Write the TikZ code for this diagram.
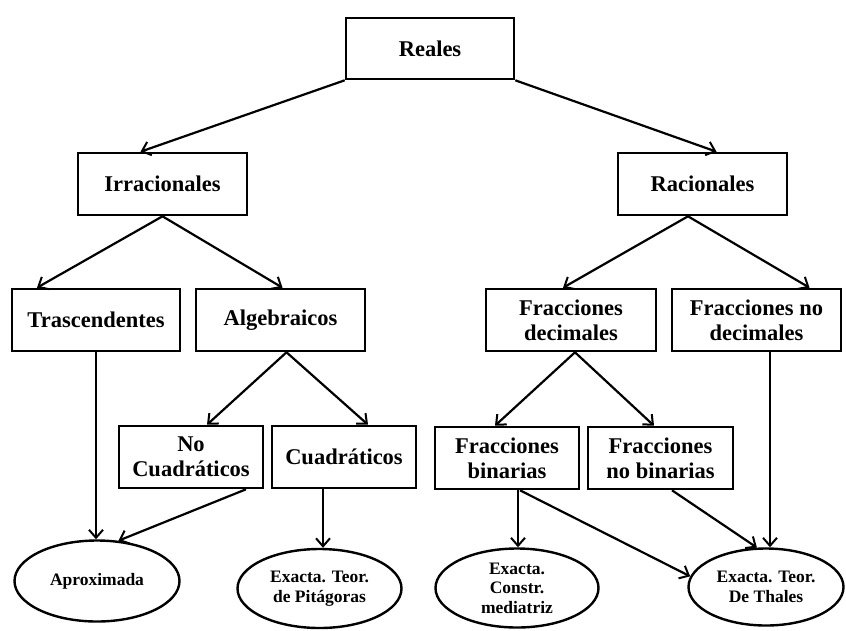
\documentclass[tikz,border=0pt]{standalone}
\usepackage{fontspec}
\setmainfont{Liberation Serif}
\usetikzlibrary{shapes.geometric,arrows.meta}
\begin{document}
\begin{tikzpicture}[x=1pt,y=-1pt,
  box/.style={draw,line width=2.6pt,rectangle,inner sep=0pt,align=center,
    font=\fontsize{22.5}{25}\selectfont\bfseries},
  oval/.style={draw,line width=2.4pt,ellipse,inner sep=0pt,align=center,
    font=\fontsize{17.5}{19.5}\selectfont\bfseries},
  link/.style={line width=2.2pt,-{Straight Barb[length=8pt,width=14pt,line width=2pt]}}]
\useasboundingbox (0,0) rectangle (846,630);
\fill[white] (0,0) rectangle (846,630);

% boxes
\node[box,minimum width=168pt,minimum height=61pt] (reales) at (430,48.5) {Reales};
\node[box,minimum width=169pt,minimum height=62pt] (irr) at (162.5,184) {Irracionales};
\node[box,minimum width=169pt,minimum height=62pt] (rac) at (702.5,184) {Racionales};
\node[box,minimum width=168pt,minimum height=62pt] (tras) at (96,320) {Trascendentes};
\node[box,minimum width=169pt,minimum height=62pt] (alg) at (280.5,320) {Algebraicos};
\node[box,minimum width=170pt,minimum height=62pt] (fdec) at (571,320) {Fracciones\\decimales};
\node[box,minimum width=169pt,minimum height=62pt] (fnodec) at (756.5,320) {Fracciones no\\decimales};
\node[box,minimum width=144pt,minimum height=62pt] (nocuad) at (191,457) {No\\Cuadráticos};
\node[box,minimum width=144pt,minimum height=62pt] (cuad) at (344,457) {Cuadráticos};
\node[box,minimum width=144pt,minimum height=62pt] (fbin) at (507,458) {Fracciones\\binarias};
\node[box,minimum width=145pt,minimum height=62pt] (fnobin) at (660.5,458) {Fracciones\\no binarias};

% ellipses
\node[oval,minimum width=165pt,minimum height=81pt] (aprox) at (97,581) {Aproximada};
\node[oval,minimum width=164pt,minimum height=79pt] (pit) at (319.5,588.5) {Exacta. Teor.\\de Pitágoras};
\node[oval,minimum width=163pt,minimum height=79pt] (med) at (517,588) {Exacta.\\Constr.\\mediatriz};
\node[oval,minimum width=155pt,minimum height=77pt] (thales) at (766,587) {Exacta. Teor.\\De Thales};

% connectors
\draw[link] (reales.south west) -- ([xshift=-22pt]irr.north);
\draw[link] (reales.south east) -- ([xshift=14pt]rac.north);
\draw[link] (irr.south) -- ([xshift=-59pt]tras.north);
\draw[link] (irr.south) -- ([xshift=2pt]alg.north);
\draw[link] ([xshift=-14.5pt]rac.south) -- ([xshift=-8pt]fdec.north);
\draw[link] ([xshift=-14.5pt]rac.south) -- ([xshift=53pt]fnodec.north);
\draw[link] (tras.south) -- (tras.south |- aprox.north);
\draw[link] ([xshift=6pt]alg.south) -- ([xshift=16pt]nocuad.north);
\draw[link] ([xshift=6pt]alg.south) -- ([xshift=24pt]cuad.north);
\draw[link] ([xshift=55pt]nocuad.south) -- (aprox.62);
\draw[link] ([xshift=-21pt]cuad.south) -- ([xshift=-21pt]cuad.south |- pit.north);
\draw[link] ([xshift=4pt]fdec.south) -- ([xshift=-12pt]fbin.north);
\draw[link] ([xshift=4pt]fdec.south) -- ([xshift=-6.5pt]fnobin.north);
\draw[link] ([xshift=13.5pt]fnodec.south) -- ([xshift=13.5pt]fnodec.south |- thales.north);
\draw[link] ([xshift=11pt]fbin.south) -- ([xshift=11pt]fbin.south |- med.north);
\draw[link] ([xshift=13pt]fbin.south) -- (thales.172);
\draw[link] ([xshift=11.5pt]fnobin.south) -- (thales.103);
\end{tikzpicture}
\end{document}
